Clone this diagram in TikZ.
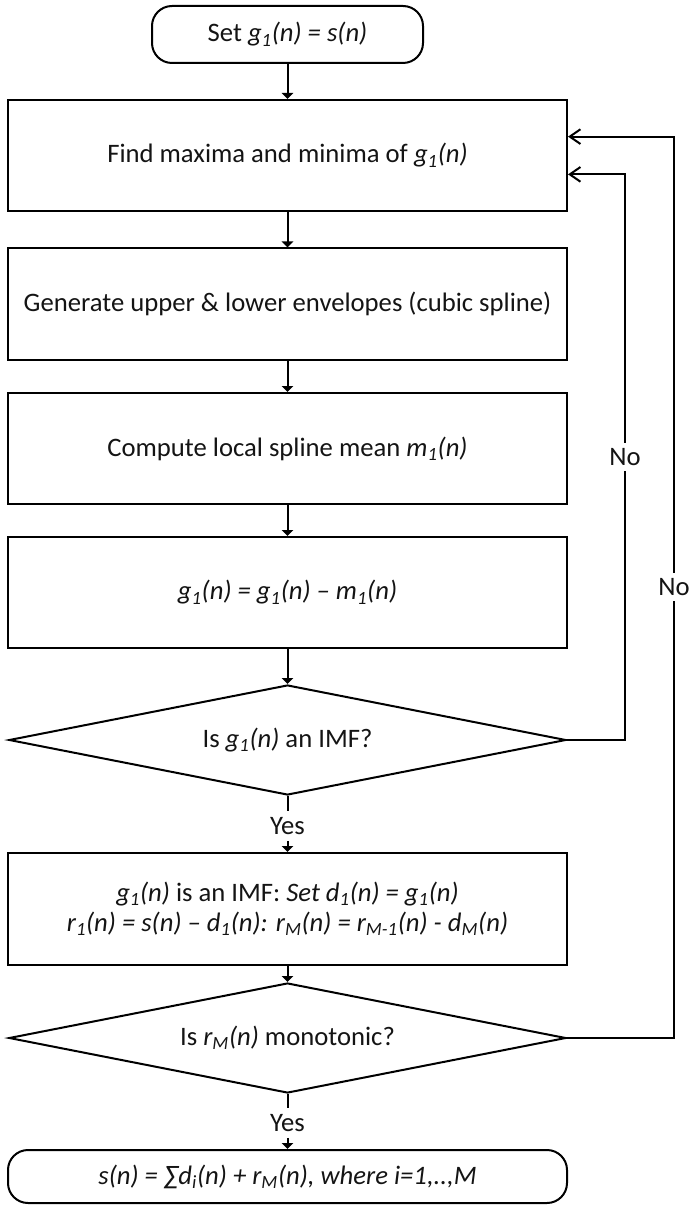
\documentclass[tikz,border=0pt]{standalone}
\usepackage{fontspec}
\setmainfont{Carlito}
\usetikzlibrary{shapes.geometric,arrows.meta,calc}
\begin{document}
\begin{tikzpicture}[x=0.75pt,y=-0.75pt,line width=1.5pt,
    font=\fontsize{20}{22.5}\selectfont,text=black!92,
    >={Triangle[length=4.5pt,width=8.5pt]},
    procbox/.style={draw,rectangle,minimum width=419.25pt,minimum height=83.25pt,inner sep=0pt,align=center},
    termbox/.style={draw,rectangle,rounded corners=15pt,inner sep=0pt},
    decide/.style={draw,diamond,aspect=5,minimum width=417.75pt,minimum height=82.5pt,inner sep=0pt},
    lab/.style={fill=white,inner xsep=1pt,inner ysep=4pt},
    back/.style={-{Straight Barb[length=8pt,width=11pt]}}]
    \useasboundingbox (0,0) rectangle (690,1205);
    \node[termbox,minimum width=203.25pt,minimum height=42.75pt] (start) at (287.5,34.5) {Set \textit{g\textsubscript{1}(n) = s(n)}};
    \node[procbox] (find) at (287.5,155.5) {Find maxima and minima of \textit{g\textsubscript{1}(n)}};
    \node[procbox] (env) at (287.5,304) {Generate upper \& lower envelopes (cubic spline)};
    \node[procbox] (mean) at (287.5,448.5) {Compute local spline mean \textit{m\textsubscript{1}(n)}};
    \node[procbox] (sub) at (287.5,592.5) {\textit{g\textsubscript{1}(n) = g\textsubscript{1}(n) – m\textsubscript{1}(n)}};
    \node[decide] (isimf) at (287.5,740) {Is \textit{g\textsubscript{1}(n)} an IMF?};
    \node[lab] (yes1) at (287.5,826) {Yes};
    \node[procbox,minimum height=84pt] (setd) at (287.5,909) {\textit{g\textsubscript{1}(n)} is an IMF: \textit{Set d\textsubscript{1}(n) = g\textsubscript{1}(n)}\\
        \textit{r\textsubscript{1}(n) = s(n) – d\textsubscript{1}(n): r\textsubscript{M}(n) = r\textsubscript{M-1}(n) - d\textsubscript{M}(n)}};
    \node[decide] (ismono) at (287.5,1038) {Is \textit{r\textsubscript{M}(n)} monotonic?};
    \node[lab] (yes2) at (287.5,1123) {Yes};
    \node[termbox,minimum width=419.25pt,minimum height=39.75pt] (result) at (287.5,1176.5) {\textit{s(n) = ∑d\textsubscript{i}(n) + r\textsubscript{M}(n), where i=1,..,M}};
    \draw[->] (start) -- (find);
    \draw[->] (find) -- (env);
    \draw[->] (env) -- (mean);
    \draw[->] (mean) -- (sub);
    \draw[->] (sub) -- (isimf);
    \draw (isimf) -- (yes1);
    \draw[->] (yes1) -- (setd);
    \draw[->] (setd) -- (ismono);
    \draw (ismono) -- (yes2);
    \draw[->] (yes2) -- (result);
    \draw[back] (isimf.east) -- ++(58,0) |- node[pos=0.25,lab] {No} ($(find.north east)!0.667!(find.south east)$);
    \draw[back] (ismono.east) -- ++(107,0) |- node[pos=0.25,lab] {No} ($(find.north east)!0.333!(find.south east)$);
\end{tikzpicture}
\end{document}
